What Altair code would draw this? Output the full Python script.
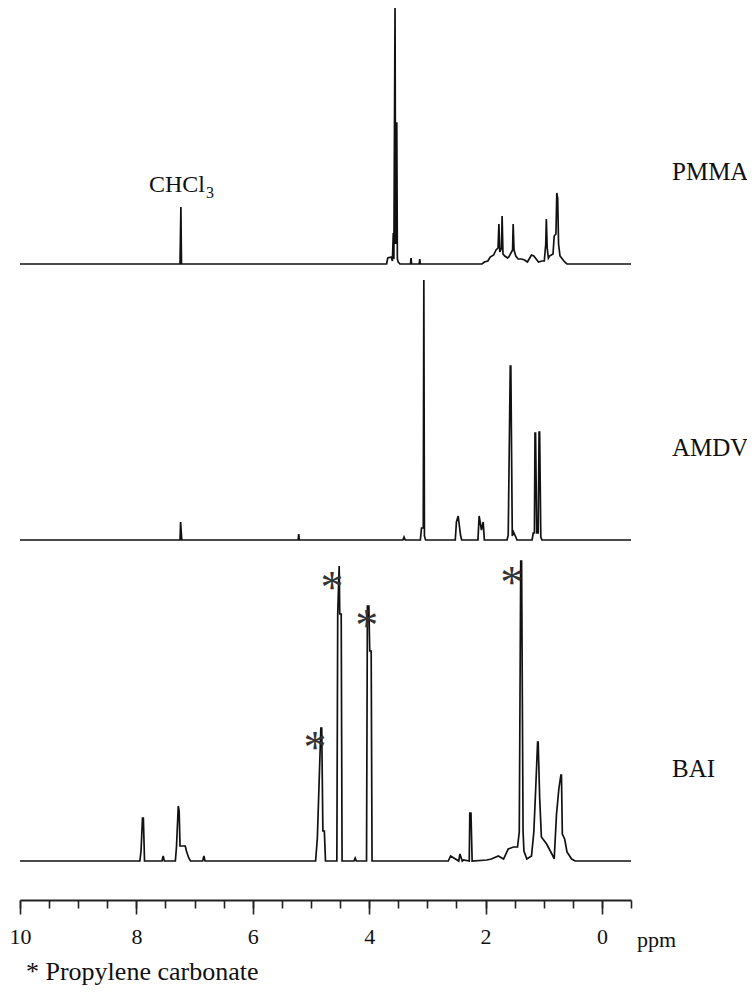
import altair as alt
import pandas as pd

# ---------------- data (chemical shift in ppm, intensity in arbitrary units) ----------------
PMMA_PPM = [10.0, 7.25, 7.235, 7.225, 3.70, 3.68, 3.62, 3.60, 3.585, 3.575, 3.555, 3.545, 3.535, 3.525, 3.515, 3.50,
            3.47, 3.29, 3.28, 3.27, 3.14, 3.13, 3.12, 2.06, 2.02, 1.96, 1.92, 1.86, 1.82, 1.785, 1.77, 1.755,
            1.725, 1.715, 1.70, 1.67, 1.62, 1.60, 1.535, 1.525, 1.51, 1.48, 1.44, 1.38, 1.33, 1.28, 1.24, 1.21,
            1.17, 1.13, 1.09, 1.03, 0.99, 0.965, 0.955, 0.94, 0.92, 0.90, 0.84, 0.82, 0.79, 0.775, 0.76, 0.745,
            0.72, 0.68, 0.64, 0.60, -0.5]
PMMA_INT = [0, 0, 57, 0, 0, 6, 7, 3, 31, 5, 257, 20, 141, 141, 5, 2,
            0, 0, 6, 0, 0, 5, 0, 0, 2, 3, 7, 9, 14, 16, 40, 12,
            16, 48, 10, 8, 6, 7, 14, 40, 14, 8, 5, 5, 4, 2, 6, 9,
            8, 5, 2, 3, 3, 20, 45, 16, 6, 8, 10, 28, 30, 71, 66, 20,
            8, 5, 2, 0, 0]

AMDV_PPM = [10.0, 7.25, 7.24, 7.22, 5.22, 5.21, 5.20, 3.42, 3.40, 3.38, 3.12, 3.10, 3.07, 3.06, 3.05, 3.03,
            2.52, 2.50, 2.47, 2.43, 2.41, 2.13, 2.11, 2.07, 2.04, 2.02, 1.63, 1.61, 1.575, 1.565, 1.54, 1.52,
            1.48, 1.46, 1.20, 1.18, 1.16, 1.15, 1.14, 1.12, 1.095, 1.08, 1.07, 1.05, 1.03, -0.5]
AMDV_INT = [0, 0, 18, 0, 0, 6, 0, 0, 3, 0, 0, 12, 12, 260, 4, 0,
            0, 18, 24, 5, 0, 0, 24, 10, 18, 0, 0, 5, 174, 174, 4, 8,
            3, 0, 0, 7, 7, 107, 107, 7, 7, 108, 108, 3, 0, 0]

BAI_PPM = [10.0, 7.94, 7.92, 7.895, 7.88, 7.86, 7.56, 7.54, 7.52, 7.33, 7.31, 7.28, 7.265, 7.25, 7.22, 7.16,
           7.14, 7.10, 7.07, 6.86, 6.84, 6.82, 4.92, 4.89, 4.86, 4.83, 4.815, 4.795, 4.77, 4.75, 4.555, 4.54,
           4.515, 4.505, 4.48, 4.465, 4.26, 4.24, 4.22, 4.045, 4.03, 4.005, 3.99, 3.965, 3.95, 2.67, 2.64, 2.60,
           2.46, 2.44, 2.40, 2.38, 2.28, 2.27, 2.25, 2.23, 1.98, 1.90, 1.78, 1.69, 1.61, 1.52, 1.45, 1.42,
           1.395, 1.38, 1.355, 1.34, 1.29, 1.21, 1.17, 1.14, 1.105, 1.095, 1.07, 1.04, 0.95, 0.86, 0.82, 0.78,
           0.74, 0.705, 0.695, 0.68, 0.64, 0.60, 0.52, 0.46, -0.5]
BAI_INT = [0, 0, 10, 43, 43, 0, 0, 5, 0, 0, 15, 55, 50, 15, 15, 15,
           10, 3, 0, 0, 5, 0, 0, 23, 78, 133, 133, 30, 30, 0, 0, 247,
           295, 247, 247, 0, 0, 3, 0, 0, 255, 255, 210, 210, 0, 0, 0, 5,
           0, 7, 0, 1, 0, 48, 48, 0, 1, 2, 5, 2, 12, 14, 14, 29,
           300, 300, 30, 10, 2, 5, 29, 69, 119, 119, 64, 24, 17, 7, 2, 47,
           72, 86, 86, 27, 22, 9, 2, 0, 0]

SAMPLES = ["PMMA", "AMDV", "BAI"]
SPECTRA = [(PMMA_PPM, PMMA_INT), (AMDV_PPM, AMDV_INT), (BAI_PPM, BAI_INT)]

# Propylene carbonate markers (annotation position, ppm / intensity above BAI baseline)
STAR_PPM = [4.93, 4.64, 4.04, 1.55]
STAR_LEVEL = [124, 284, 246, 289]

MAJOR_TICKS = [0, 2, 4, 6, 8, 10]
MINOR_TICKS = [-0.5, 0, 0.5, 1, 1.5, 2, 2.5, 3, 3.5, 4, 4.5, 5, 5.5, 6, 6.5, 7, 7.5, 8, 8.5, 9, 9.5, 10]

# ---------------- layout constants ----------------
OFFSETS = {"PMMA": 636, "AMDV": 360, "BAI": 39}
LABEL_RISE = 84
W, H = 611, 892
FONT = "Liberation Serif"

for pp, ii in [(PMMA_PPM, PMMA_INT), (AMDV_PPM, AMDV_INT), (BAI_PPM, BAI_INT)]:
    assert len(pp) == len(ii), (len(pp), len(ii))

rows = []
for name, (pp, ii) in zip(SAMPLES, SPECTRA):
    for k, (p, v) in enumerate(zip(pp, ii)):
        rows.append({"sample": name, "ppm": p, "y": OFFSETS[name] + v, "idx": k})
spec_df = pd.DataFrame(rows)

stars_df = pd.DataFrame({"ppm": STAR_PPM, "y": [OFFSETS["BAI"] + s for s in STAR_LEVEL], "t": ["*"] * len(STAR_PPM)})
labels_df = pd.DataFrame({"label": SAMPLES, "y": [OFFSETS[s] + LABEL_RISE for s in SAMPLES]})
chcl3_df = pd.DataFrame({"ppm": [PMMA_PPM[2]], "y": [OFFSETS["PMMA"] + 72], "t": ["CHCl"], "s": ["3"]})
minor_df = pd.DataFrame({"t": MINOR_TICKS})

xscale = alt.Scale(domain=[-0.5, 10], reverse=True, nice=False, zero=False)
yscale = alt.Scale(domain=[0, H], nice=False, zero=False)

major_axis = alt.Axis(values=MAJOR_TICKS, format="d", orient="bottom", tickSize=14, tickWidth=1.6,
                      tickColor="#222", domainColor="#222", domainWidth=1.8, labelFont=FONT,
                      labelFontSize=22, labelColor="#111", labelPadding=12, labelFlush=False,
                      labelOverlap=False, grid=False, title=None)
minor_axis = alt.Axis(values=MINOR_TICKS, orient="bottom", tickSize=8, tickWidth=1.6, tickColor="#222",
                      domain=False, labels=False, grid=False, title=None)

spectra = alt.Chart(spec_df).mark_line(color="#111", strokeWidth=1.7).encode(
    x=alt.X("ppm:Q", scale=xscale, axis=major_axis),
    y=alt.Y("y:Q", scale=yscale, axis=None),
    detail="sample:N",
    order="idx:Q",
)

minor = alt.Chart(minor_df).mark_point(opacity=0).encode(
    x=alt.X("t:Q", scale=xscale, axis=minor_axis),
)

stars = alt.Chart(stars_df).mark_text(font=FONT, fontSize=46, color="#333", baseline="alphabetic", dy=26).encode(
    x=alt.X("ppm:Q", scale=xscale, axis=None), y=alt.Y("y:Q", scale=yscale, axis=None), text="t:N"
)

labels = alt.Chart(labels_df).mark_text(font=FONT, fontSize=25, color="#111", align="left",
                                        baseline="alphabetic").encode(
    x=alt.value(652), y=alt.Y("y:Q", scale=yscale, axis=None), text="label:N"
)

chcl = alt.Chart(chcl3_df).mark_text(font=FONT, fontSize=24, color="#111", align="right",
                                     baseline="alphabetic", dx=24).encode(
    x=alt.X("ppm:Q", scale=xscale, axis=None), y=alt.Y("y:Q", scale=yscale, axis=None), text="t:N"
)
chcl_sub = alt.Chart(chcl3_df).mark_text(font=FONT, fontSize=16, color="#111", align="left",
                                         baseline="alphabetic", dx=25, dy=6).encode(
    x=alt.X("ppm:Q", scale=xscale, axis=None), y=alt.Y("y:Q", scale=yscale, axis=None), text="s:N"
)

ppm_label = alt.Chart(pd.DataFrame({"t": ["ppm"]})).mark_text(
    font=FONT, fontSize=22, color="#111", align="left", baseline="alphabetic").encode(
    x=alt.value(617), y=alt.value(939), text="t:N"
)
note = alt.Chart(pd.DataFrame({"t": ["* Propylene carbonate"]})).mark_text(
    font=FONT, fontSize=26, color="#111", align="left", baseline="alphabetic").encode(
    x=alt.value(6), y=alt.value(972), text="t:N"
)

chart = alt.layer(spectra, minor, stars, labels, chcl, chcl_sub, ppm_label, note).resolve_axis(
    x="independent"
).properties(
    width=W, height=H,
    autosize=alt.AutoSizeParams(type="none"),
    padding={"left": 12, "top": 0, "right": 116, "bottom": 86},
).configure_view(stroke=None)

chart.save("out.html", embed_options={"renderer": "svg", "actions": False})
